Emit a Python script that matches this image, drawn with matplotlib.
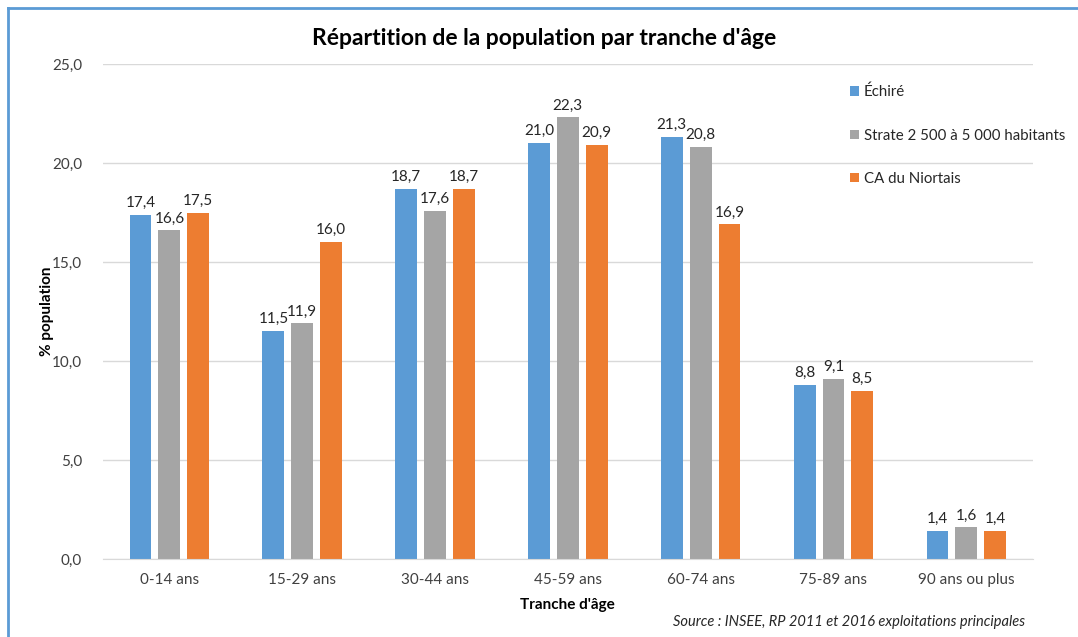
import numpy as np
import matplotlib.pyplot as plt
from matplotlib.lines import Line2D

plt.rcParams['font.family'] = ['Lato', 'DejaVu Sans']

categories = ['0-14 ans', '15-29 ans', '30-44 ans', '45-59 ans', '60-74 ans', '75-89 ans', '90 ans ou plus']
echire = [17.4, 11.5, 18.7, 21.0, 21.3, 8.8, 1.4]
strate = [16.6, 11.9, 17.6, 22.3, 20.8, 9.1, 1.6]
can = [17.5, 16.0, 18.7, 20.9, 16.9, 8.5, 1.4]
series_names = ['Échiré', 'Strate 2 500 à 5 000 habitants', 'CA du Niortais']
colors = ['#5B9BD5', '#A5A5A5', '#ED7D31']

fig = plt.figure(figsize=(10.78, 6.37), dpi=100)
ax = fig.add_axes([0.0955, 0.1224, 0.8625, 0.7771])

x = np.arange(len(categories))
w = 0.165
step = 0.217
for i, (vals, name, c) in enumerate(zip([echire, strate, can], series_names, colors)):
    bars = ax.bar(x + (i - 1) * step, vals, w, color=c, label=name, zorder=3)
    for b, v in zip(bars, vals):
        ax.text(b.get_x() + b.get_width() / 2, v + 0.25, f'{v:.1f}'.replace('.', ','),
                ha='center', va='bottom', fontsize=11, color='#262626')

ax.set_xlim(-0.5, len(categories) - 0.5)
ax.set_ylim(0, 25)
ax.set_yticks(np.arange(0, 26, 5))
ax.set_yticklabels([f'{t:.1f}'.replace('.', ',') for t in np.arange(0, 26, 5)])
ax.set_xticks(x)
ax.set_xticklabels(categories)
ax.tick_params(axis='both', length=0, labelsize=11, labelcolor='#404040')
ax.tick_params(axis='y', pad=15)
ax.tick_params(axis='x', pad=10)
ax.yaxis.grid(True, color='#D9D9D9', linewidth=1, zorder=0)
for s in ['top', 'right', 'left']:
    ax.spines[s].set_visible(False)
ax.spines['bottom'].set_color('#D9D9D9')
ax.spines['bottom'].set_zorder(4)

ax.set_ylabel('% population', fontsize=11, fontweight='bold')
ax.yaxis.set_label_coords(-0.053, 0.5)
ax.set_xlabel("Tranche d'âge", fontsize=11, fontweight='bold', labelpad=8)

fig.text(0.505, 0.94, "Répartition de la population par tranche d'âge",
         ha='center', va='center', fontsize=16.5, fontweight='bold', color='#000000')
fig.text(0.788, 0.023, 'Source : INSEE, RP 2011 et 2016 exploitations principales',
         ha='center', va='center', fontsize=10.5, style='italic', color='#262626')

fig.legend(loc='upper left', bbox_to_anchor=(0.776, 0.888), frameon=False,
           fontsize=10.8, handlelength=0.6, handleheight=0.6, handletextpad=0.3,
           labelspacing=1.95, labelcolor='#262626')

# cadre bleu (haut et gauche)
fig.add_artist(Line2D([0.0075, 1.0], [0.987, 0.987], color='#5B9BD5', lw=2))
fig.add_artist(Line2D([0.0075, 0.0075], [0.0, 0.987], color='#5B9BD5', lw=2))

fig.savefig('out.png', dpi=100)
